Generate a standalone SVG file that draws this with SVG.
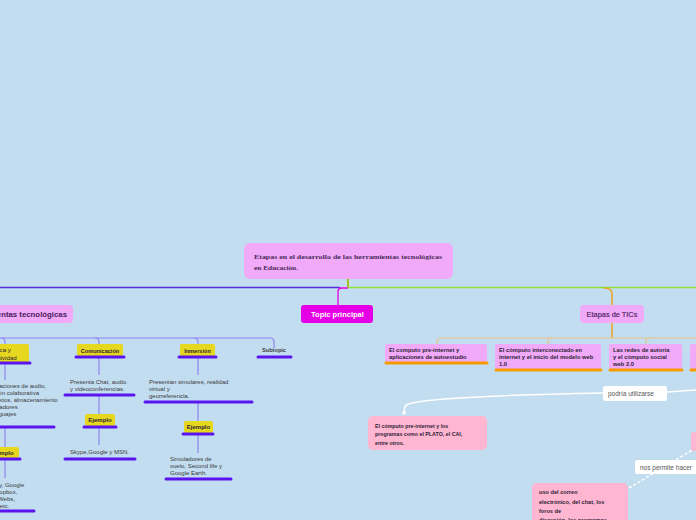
<svg xmlns="http://www.w3.org/2000/svg" width="696" height="520" viewBox="0 0 696 520">
<style>
.bg{fill:#c2ddef}
.pk{fill:#f1aaf7}
.lp{fill:#ffb6d0}
.yl{fill:#e6d81e}
.ul{stroke:#5a14f0;stroke-width:3;stroke-linecap:round}
.uo{stroke:#f59b00;stroke-width:3;stroke-linecap:round}
.cl{fill:none;stroke:#8f83f2;stroke-width:1.2}
.co{fill:none;stroke:#e8c48a;stroke-width:1.2}
.t{font-family:"Liberation Sans",Arial,sans-serif}
.b{font-weight:bold}
.dk{fill:#2e2238}
.gr{fill:#3a3a40}
</style>
<rect class="bg" x="0" y="0" width="696" height="520"/>

<g id="connectors">
  <path d="M0 287.5 H340" fill="none" stroke="#5630e0" stroke-width="1.3"/>
  <path d="M348 287.5 H696" fill="none" stroke="#8fe03a" stroke-width="1.3"/>
  <path d="M348 279 V287" fill="none" stroke="#a8c020" stroke-width="2"/>
  <path d="M338 305 V292 Q338 288 342 288 H348" fill="none" stroke="#e600e6" stroke-width="1.3"/>
  <path d="M604 288 Q612 288 612 294 V305" fill="none" stroke="#f0a020" stroke-width="1.5"/>
  <path d="M612 323 V338" fill="none" stroke="#f0a020" stroke-width="1.5"/>
  <path class="co" d="M437 344 V342 Q437 338 441 338 H696"/>
  <path class="co" d="M548 344 V342 Q548 338 552 338"/>
  <path class="co" d="M646 344 V342 Q646 338 650 338"/>
  <path class="cl" d="M0 338 H270 Q274 338 274 342 V348"/>
  <path class="cl" d="M1 338 Q5 338 5 342 V344"/>
  <path class="cl" d="M95 338 Q99 338 99 342 V344"/>
  <path class="cl" d="M194 338 Q198 338 198 342 V344"/>
  <path class="cl" d="M5 364 V380"/>
  <path class="cl" d="M5 428 V447"/>
  <path class="cl" d="M5 460 V478"/>
  <path class="cl" d="M99 357 V375"/>
  <path class="cl" d="M99 396 V414"/>
  <path class="cl" d="M99 428 V445"/>
  <path class="cl" d="M198 357 V375"/>
  <path class="cl" d="M198 403 V421"/>
  <path class="cl" d="M198 435 V453"/>
  <path d="M603 393 C500 395 420 398 406 405 Q404 408 404 414" fill="none" stroke="#ffffff" stroke-width="1.5"/>
  <circle cx="404" cy="413" r="1.8" fill="#ffffff"/>
  <path d="M667 392 L696 390" fill="none" stroke="#ffffff" stroke-width="1.5"/>
  <path d="M629 488 L694 449" fill="none" stroke="#ffffff" stroke-width="1.5" stroke-dasharray="3 2"/>
</g>

<g id="title">
  <rect class="pk" x="244" y="243" width="209" height="36" rx="6"/>
  <text x="254" y="259" font-family="Liberation Serif,serif" font-weight="bold" font-size="7" fill="#4a2a5a" textLength="188" lengthAdjust="spacingAndGlyphs">Etapas en el desarrollo de las herramientas tecnológicas</text>
  <text x="254" y="270" font-family="Liberation Serif,serif" font-weight="bold" font-size="7" fill="#4a2a5a" textLength="44" lengthAdjust="spacingAndGlyphs">en Educación.</text>
</g>

<g id="topic-principal">
  <rect x="301" y="305" width="72" height="18" rx="3" fill="#e600e6"/>
  <text class="t b" x="337.5" y="316.5" font-size="7.5" fill="#ffffff" text-anchor="middle">Topic principal</text>
</g>

<g id="herramientas">
  <rect class="pk" x="-80" y="305" width="153" height="18" rx="4"/>
  <text class="t b" x="67" y="317" font-size="7.8" fill="#4a2060" text-anchor="end">Herramientas tecnológicas</text>
</g>

<g id="productividad">
  <rect class="yl" x="-30" y="344" width="59" height="19" rx="2"/>
  <line class="ul" x1="-30" y1="363" x2="30" y2="363"/>
  <text class="t dk" font-size="6.2" x="-20" y="352">Ofimática y</text>
  <text class="t dk" font-size="6.2" x="-20" y="359.5">productividad</text>
</g>
<g id="productividad-desc">
  <text class="t gr" font-size="6"><tspan x="-14" y="388">Aplicaciones de audio,</tspan><tspan x="-14" y="395">edición colaborativa</tspan><tspan x="-14" y="402">de textos, almacenamiento</tspan><tspan x="-14" y="409">marcadores</tspan><tspan x="-14" y="416">y lenguajes</tspan></text>
  <line class="ul" x1="-50" y1="427" x2="54" y2="427"/>
</g>
<g id="productividad-ejemplo">
  <rect class="yl" x="-14" y="447" width="33" height="11" rx="2"/>
  <text class="t b dk" font-size="6" x="2" y="455" text-anchor="middle">Ejemplo</text>
  <line class="ul" x1="-14" y1="459" x2="20" y2="459"/>
</g>
<g id="productividad-ej-desc">
  <text class="t gr" font-size="6"><tspan x="-24" y="487">Skydrivey, Google</tspan><tspan x="-24" y="494">Docs, Dropbox,</tspan><tspan x="-24" y="501">Zotero, iWebs,</tspan><tspan x="-24" y="508">Blogger, etc.</tspan></text>
  <line class="ul" x1="-20" y1="511" x2="34" y2="511"/>
</g>

<g id="comunicacion">
  <rect class="yl" x="77" y="344" width="46" height="12" rx="2"/>
  <text class="t b dk" font-size="5.6" x="100" y="352.5" text-anchor="middle">Comunicación</text>
  <line class="ul" x1="76" y1="357" x2="124" y2="357"/>
</g>
<g id="comunicacion-desc">
  <text class="t gr" font-size="6"><tspan x="70" y="384">Presenta Chat, audio</tspan><tspan x="70" y="391">y videoconferencias.</tspan></text>
  <line class="ul" x1="65" y1="395" x2="134" y2="395"/>
</g>
<g id="comunicacion-ejemplo">
  <rect class="yl" x="85" y="414" width="30" height="12" rx="2"/>
  <text class="t b dk" font-size="6" x="100" y="422" text-anchor="middle">Ejemplo</text>
  <line class="ul" x1="84" y1="427" x2="116" y2="427"/>
</g>
<g id="comunicacion-ej-desc">
  <text class="t gr" font-size="6" x="70" y="454">Skype,Google y MSN.</text>
  <line class="ul" x1="65" y1="459" x2="135" y2="459"/>
</g>

<g id="inmersion">
  <rect class="yl" x="180" y="344" width="35" height="12" rx="2"/>
  <text class="t b dk" font-size="5.6" x="197.5" y="352.5" text-anchor="middle">Inmersión</text>
  <line class="ul" x1="179" y1="357" x2="216" y2="357"/>
</g>
<g id="inmersion-desc">
  <text class="t gr" font-size="6"><tspan x="149" y="384">Presentan simulares, realidad</tspan><tspan x="149" y="390.5">virtual y</tspan><tspan x="149" y="397.5">georreferencia.</tspan></text>
  <line class="ul" x1="145" y1="402" x2="252" y2="402"/>
</g>
<g id="inmersion-ejemplo">
  <rect class="yl" x="184" y="421" width="29" height="12" rx="2"/>
  <text class="t b dk" font-size="6" x="198.5" y="429" text-anchor="middle">Ejemplo</text>
  <line class="ul" x1="183" y1="434" x2="213" y2="434"/>
</g>
<g id="inmersion-ej-desc">
  <text class="t gr" font-size="6"><tspan x="170" y="461">Simuladores de</tspan><tspan x="170" y="468">vuelo, Second life y</tspan><tspan x="170" y="475">Google Earth.</tspan></text>
  <line class="ul" x1="166" y1="479" x2="231" y2="479"/>
</g>

<g id="subtopic">
  <text class="t b gr" font-size="5.6" x="274" y="352" text-anchor="middle">Subtopic</text>
  <line class="ul" x1="258" y1="357" x2="291" y2="357"/>
</g>

<g id="etapas-tics">
  <rect class="pk" x="580" y="305" width="64" height="18" rx="4"/>
  <text class="t" font-size="7.4" fill="#4a2060" stroke="#4a2060" stroke-width="0.15" x="612" y="316.5" text-anchor="middle">Etapas de TICs</text>
</g>

<g id="etapa1">
  <rect class="pk" x="385" y="344" width="102" height="19" rx="2"/>
  <text class="t b dk" font-size="5.8"><tspan x="389" y="352">El computo pre-internet y</tspan><tspan x="389" y="359">aplicaciones de autoestudio</tspan></text>
  <line class="uo" x1="386" y1="363" x2="487" y2="363"/>
</g>
<g id="etapa2">
  <rect class="pk" x="495" y="344" width="106" height="25" rx="2"/>
  <text class="t b dk" font-size="5.8"><tspan x="499" y="352">El cómputo interconectado en</tspan><tspan x="499" y="359">internet y el inicio del modelo web</tspan><tspan x="499" y="366">1.0</tspan></text>
  <line class="uo" x1="496" y1="370" x2="601" y2="370"/>
</g>
<g id="etapa3">
  <rect class="pk" x="609" y="344" width="73" height="25" rx="2"/>
  <text class="t b dk" font-size="5.8"><tspan x="613" y="352">Las redes de autoría</tspan><tspan x="613" y="359">y el cómputo social</tspan><tspan x="613" y="366">web 2.0</tspan></text>
  <line class="uo" x1="610" y1="370" x2="682" y2="370"/>
</g>
<g id="etapa4">
  <rect class="pk" x="690" y="344" width="40" height="25" rx="2"/>
  <line class="uo" x1="691" y1="370" x2="700" y2="370"/>
</g>

<g id="label-podria">
  <rect x="603" y="386" width="64" height="15" rx="2" fill="#ffffff"/>
  <text class="t" font-size="6.5" fill="#555" x="608" y="396">podría  utilizarse</text>
</g>
<g id="nodo-preinternet">
  <rect class="lp" x="368" y="416" width="119" height="34" rx="5"/>
  <text class="t b dk" font-size="5.3"><tspan x="375" y="428">El cómputo pre-internet y los</tspan><tspan x="375" y="436">programas como el PLATO, el CAI,</tspan><tspan x="375" y="444.5">entre otros.</tspan></text>
</g>
<g id="nodo-derecha">
  <rect class="lp" x="691" y="432" width="40" height="19" rx="3"/>
</g>
<g id="label-nos-permite">
  <rect x="635" y="460" width="80" height="14" rx="2" fill="#ffffff"/>
  <text class="t" font-size="6.5" fill="#555" x="640" y="470">nos permite hacer</text>
</g>
<g id="nodo-correo">
  <rect class="lp" x="532" y="483" width="96" height="50" rx="5"/>
  <text class="t b dk" font-size="5.6"><tspan x="539" y="494">uso del correo</tspan><tspan x="539" y="503.5">electrónico, del chat, los</tspan><tspan x="539" y="512.5">foros de</tspan><tspan x="539" y="521.5">discusión, los programas</tspan></text>
</g>
</svg>
